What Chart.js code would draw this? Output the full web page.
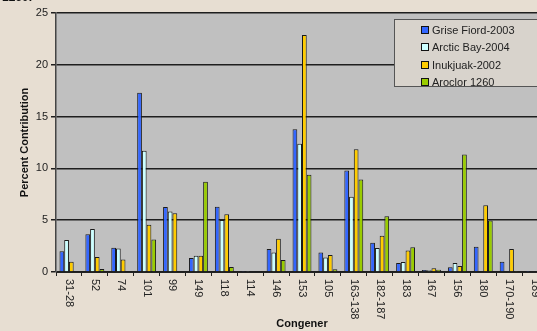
<!DOCTYPE html>
<html>
<head>
<meta charset="utf-8">
<script src="https://cdn.jsdelivr.net/npm/chart.js@4/dist/chart.umd.min.js"></script>
<style>
  html, body { margin: 0; padding: 0; width: 537px; height: 331px; overflow: hidden; background: #e7ded2; }
  #wrap { position: relative; width: 537px; height: 331px; overflow: hidden; }
  #chart { position: absolute; left: 0; top: 0; }
  #cut-title { position: absolute; left: 2px; top: -10px; font: bold 12px Arial, "Liberation Sans", sans-serif; color: #111; }
  #legend { position: absolute; left: 394px; top: 19px; width: 160px; height: 68px; background: #d8d3cc;
    border: 1px solid #555; box-sizing: border-box; font: 11px Arial, "Liberation Sans", sans-serif; color: #222; }
  #legend .item { position: absolute; left: 26px; height: 14px; line-height: 14px; white-space: nowrap; }
  #legend .sw { display: inline-block; width: 6px; height: 6px; border: 1px solid #111; margin-right: 3px; vertical-align: 0px; }
</style>
</head>
<body>
<div id="wrap">
  <canvas id="chart" width="560" height="331"></canvas>
  <div id="cut-title">1260.</div>
  <div id="legend"></div>
</div>
<script>
"use strict";

// Congener profiles, percent contribution per sample.
const CONGENERS = ["31-28", "52", "74", "101", "99", "149", "118", "114", "146", "153",
  "105", "163-138", "182-187", "183", "167", "156", "180", "170-190", "189"];
const SERIES = ["Grise Fiord-2003", "Arctic Bay-2004", "Inukjuak-2002", "Aroclor 1260"];
const GRISE_FIORD = [2.0, 3.65, 2.34, 17.3, 6.28, 1.35, 6.31, 0.1, 2.21, 13.78, 1.89, 9.8, 2.82, 0.87, 0.19, 0.45, 2.43, 0.99, 0.03];
const ARCTIC_BAY = [3.08, 4.16, 2.27, 11.7, 5.83, 1.57, 5.03, 0.1, 1.89, 12.37, 1.41, 7.27, 2.31, 0.96, 0.16, 0.87, 0, 0, 0];
const INUKJUAK = [0.99, 1.44, 1.21, 4.55, 5.67, 1.57, 5.57, 0.08, 3.2, 22.88, 1.63, 11.86, 3.49, 2.08, 0.35, 0.58, 6.44, 2.21, 0];
const AROCLOR = [0.05, 0.29, 0.05, 3.14, 0.05, 8.71, 0.48, 0.05, 1.15, 9.39, 0.26, 8.94, 5.38, 2.4, 0.22, 11.35, 4.96, 0.1, 0.05];
const Y_TICKS = [0, 5, 10, 15, 20, 25];

const COLORS = ["#3366ff", "#ccffff", "#ffcc00", "#99cc00"];
const FONT = "Arial, 'Liberation Sans', sans-serif";

function el(id) {
  return document.getElementById(id);
}

function renderLegend() {
  el("legend").innerHTML = SERIES.map((s, i) =>
    `<div class="item" style="top:${3 + i * 17.3}px"><span class="sw" style="background:${COLORS[i]}"></span>${s}</div>`
  ).join("");
}

// grey plot area, like the old Excel default
const plotBg = {
  id: "plotBg",
  beforeDraw(chart) {
    const { ctx, chartArea: a } = chart;
    ctx.save();
    ctx.fillStyle = "#c0c0c0";
    ctx.fillRect(a.left, a.top, a.right - a.left, a.bottom - a.top);
    ctx.restore();
  },
};

// category labels read top-to-bottom (rotated clockwise), which Chart.js won't do itself
const downLabels = {
  id: "downLabels",
  afterDraw(chart) {
    const { ctx } = chart;
    const x = chart.scales.x;
    ctx.save();
    ctx.font = "11px " + FONT;
    ctx.fillStyle = "#222";
    ctx.textAlign = "left";
    ctx.textBaseline = "middle";
    chart.data.labels.forEach((lab, i) => {
      ctx.save();
      ctx.translate(x.getPixelForValue(i), x.top + 7);
      ctx.rotate(Math.PI / 2);
      ctx.fillText(lab, 0, 0);
      ctx.restore();
    });
    ctx.restore();
  },
};

function render() {
  const data = [GRISE_FIORD, ARCTIC_BAY, INUKJUAK, AROCLOR];
  new Chart(el("chart"), {
    type: "bar",
    data: {
      labels: CONGENERS,
      datasets: SERIES.map((s, i) => ({
        label: s, data: data[i], backgroundColor: COLORS[i], borderColor: "#1a1a1a", borderWidth: 1,
        categoryPercentage: 0.73, barPercentage: 1,
      })),
    },
    options: {
      responsive: false,
      animation: false,
      layout: { padding: { top: 13, right: 12, left: 0, bottom: 0 } },
      plugins: { legend: { display: false }, tooltip: { enabled: false } },
      scales: {
        x: {
          grid: { display: true, drawOnChartArea: false, offset: true, color: "#222", tickLength: 4 },
          border: { display: true, color: "#222", width: 1 },
          ticks: { color: "rgba(0,0,0,0)", font: { size: 11, family: FONT }, maxRotation: 90, minRotation: 90 },
          title: { display: true, text: "Congener", color: "#111", font: { size: 11, weight: "bold", family: FONT },
            padding: { top: 0, bottom: 0 } },
          afterFit(scale) { scale.height = 59; },
        },
        y: {
          min: 0, max: 25,
          afterBuildTicks(scale) { scale.ticks = Y_TICKS.map((v) => ({ value: v })); },
          grid: { color: "#1e1e1e", lineWidth: 1.5, tickLength: 5 },
          border: { display: true, color: "#444", width: 1.5 },
          ticks: { color: "#222", padding: 3, font: { size: 11, family: FONT } },
          title: { display: true, text: "Percent Contribution", color: "#111",
            font: { size: 11, weight: "bold", family: FONT }, padding: { top: 18, bottom: 0 } },
          afterFit(scale) { scale.width = 56; },
        },
      },
    },
    plugins: [plotBg, downLabels],
  });
}

renderLegend();
render();
</script>
</body>
</html>
